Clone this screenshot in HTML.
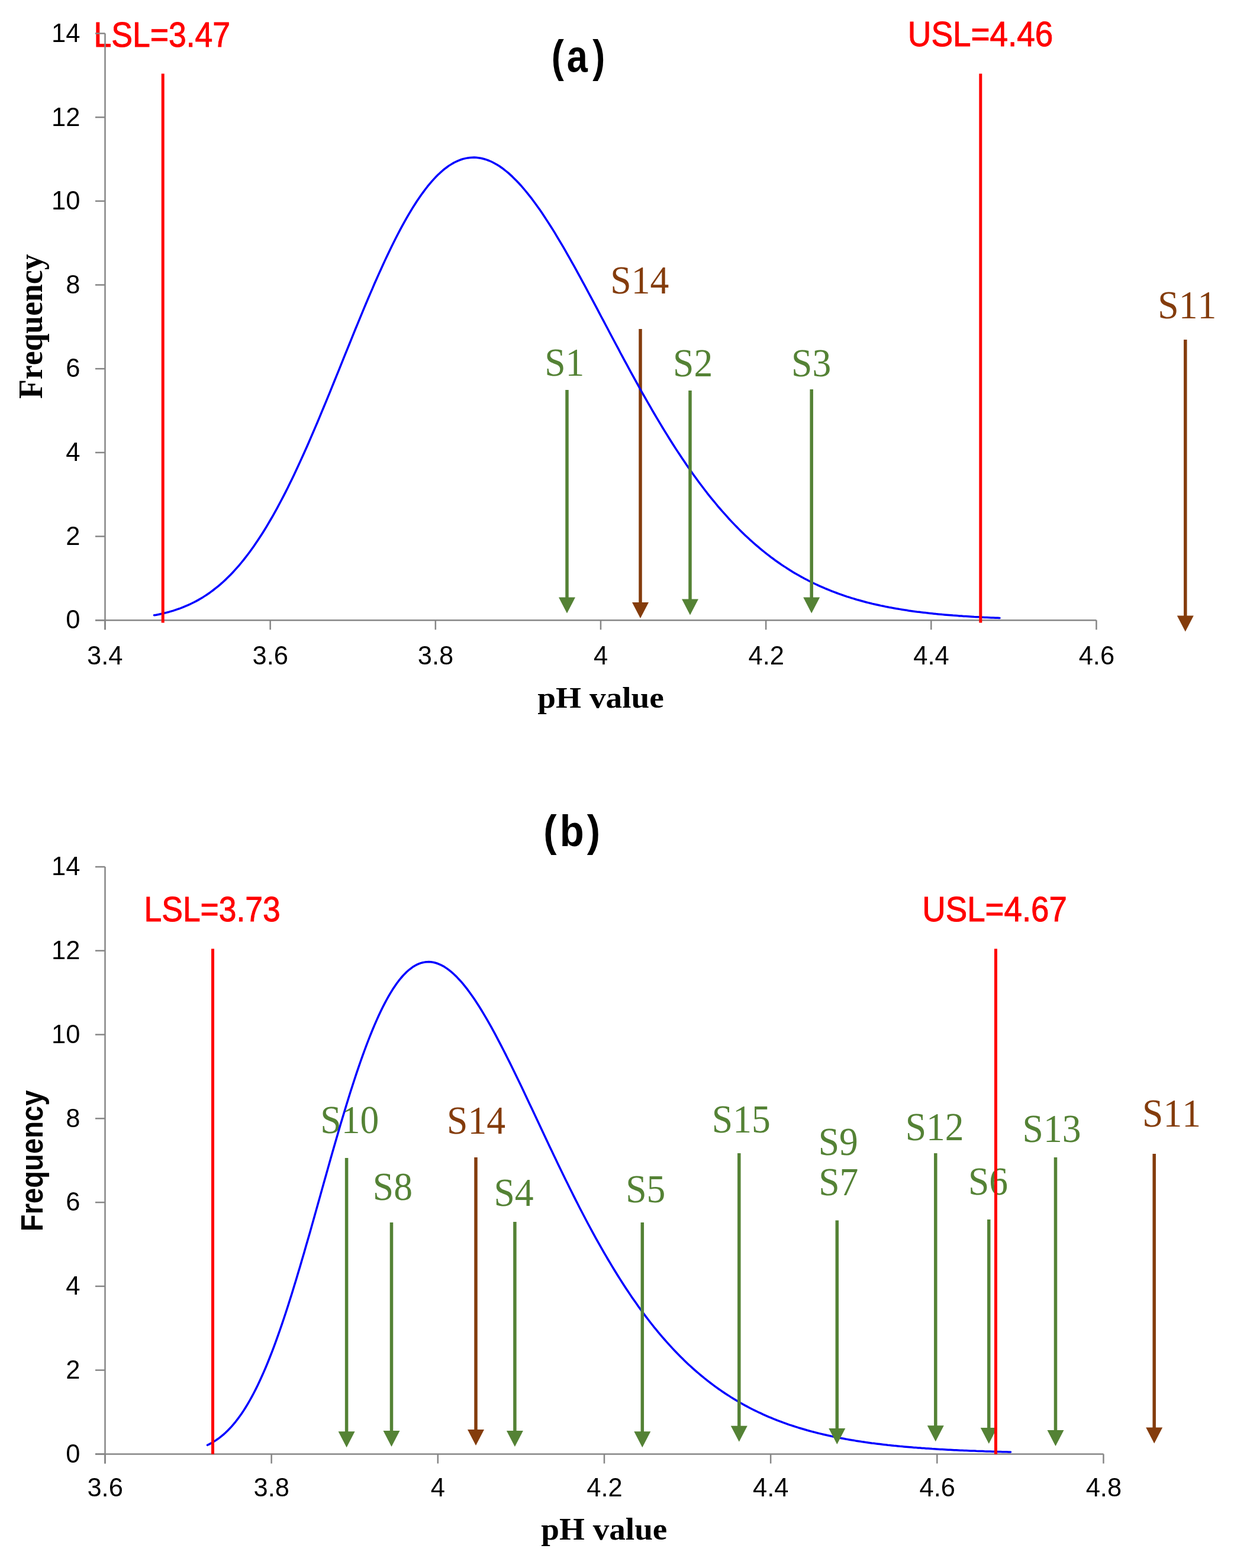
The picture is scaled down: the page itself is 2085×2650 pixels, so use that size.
<!DOCTYPE html>
<html><head><meta charset="utf-8"><title>pH value capability charts</title>
<style>
html,body{margin:0;padding:0;background:#fff;}
body{width:2085px;height:2650px;overflow:hidden;}
svg{display:block;}
#wrap{}
text{font-kerning:none;}
</style></head><body>
<div id="wrap"><svg width="2085" height="2650" viewBox="0 0 2085 2650">
<rect width="2085" height="2650" fill="#fff"/>
<g id="chart-a">
<text transform="translate(158.51,78.72) scale(0.9019,1)" font-family='"Liberation Sans", Arial, sans-serif' font-weight="normal" font-size="59.32" fill="#FF0000" stroke="#FF0000" stroke-width="1">LSL=3.47</text>
<text transform="translate(1533.77,78.12) scale(0.9187,1)" font-family='"Liberation Sans", Arial, sans-serif' font-weight="normal" font-size="59.75" fill="#FF0000" stroke="#FF0000" stroke-width="1">USL=4.46</text>
<text transform="translate(931.65,120.55) scale(0.8377,1)" font-family='"Liberation Sans", Arial, sans-serif' font-weight="bold" font-size="75.42" fill="#000"><tspan x="-0.02">(</tspan><tspan x="31.22">a</tspan><tspan x="83.05">)</tspan></text>
<text transform="translate(70.70,673.92) rotate(-90) scale(0.9575,1)" font-family='"Liberation Serif", "Times New Roman", serif' font-weight="bold" font-size="56.05" fill="#000">Frequency</text>
<text transform="translate(908.30,1196.31) scale(1.0718,1)" font-family='"Liberation Serif", "Times New Roman", serif' font-weight="bold" font-size="51.61" fill="#000">pH value</text>
<text transform="translate(920.17,634.60) scale(0.9500,1)" font-family='"Liberation Serif", "Times New Roman", serif' font-weight="normal" font-size="67.00" fill="#548235">S1</text>
<text transform="translate(1031.34,496.35) scale(0.9500,1)" font-family='"Liberation Serif", "Times New Roman", serif' font-weight="normal" font-size="67.00" fill="#843C0C">S14</text>
<text transform="translate(1137.02,635.85) scale(0.9500,1)" font-family='"Liberation Serif", "Times New Roman", serif' font-weight="normal" font-size="67.00" fill="#548235">S2</text>
<text transform="translate(1337.00,635.85) scale(0.9500,1)" font-family='"Liberation Serif", "Times New Roman", serif' font-weight="normal" font-size="67.00" fill="#548235">S3</text>
<text transform="translate(1956.26,537.95) scale(0.9500,1)" font-family='"Liberation Serif", "Times New Roman", serif' font-weight="normal" font-size="67.00" fill="#843C0C">S11</text>
<line x1="177.50" y1="56.50" x2="177.50" y2="1064.20" stroke="#868686" stroke-width="2.5"/>
<line x1="161.00" y1="1048.20" x2="177.50" y2="1048.20" stroke="#868686" stroke-width="2.5"/>
<text x="135.50" y="1062.47" text-anchor="end" font-family='"Liberation Sans", Arial, sans-serif' font-size="43.5" fill="#000">0</text>
<line x1="161.00" y1="906.53" x2="177.50" y2="906.53" stroke="#868686" stroke-width="2.5"/>
<text x="135.50" y="921.02" text-anchor="end" font-family='"Liberation Sans", Arial, sans-serif' font-size="43.5" fill="#000">2</text>
<line x1="161.00" y1="764.86" x2="177.50" y2="764.86" stroke="#868686" stroke-width="2.5"/>
<text x="135.50" y="779.12" text-anchor="end" font-family='"Liberation Sans", Arial, sans-serif' font-size="43.5" fill="#000">4</text>
<line x1="161.00" y1="623.19" x2="177.50" y2="623.19" stroke="#868686" stroke-width="2.5"/>
<text x="135.50" y="637.46" text-anchor="end" font-family='"Liberation Sans", Arial, sans-serif' font-size="43.5" fill="#000">6</text>
<line x1="161.00" y1="481.51" x2="177.50" y2="481.51" stroke="#868686" stroke-width="2.5"/>
<text x="135.50" y="495.79" text-anchor="end" font-family='"Liberation Sans", Arial, sans-serif' font-size="43.5" fill="#000">8</text>
<line x1="161.00" y1="339.84" x2="177.50" y2="339.84" stroke="#868686" stroke-width="2.5"/>
<text x="135.50" y="354.12" text-anchor="end" font-family='"Liberation Sans", Arial, sans-serif' font-size="43.5" fill="#000">10</text>
<line x1="161.00" y1="198.17" x2="177.50" y2="198.17" stroke="#868686" stroke-width="2.5"/>
<text x="135.50" y="212.66" text-anchor="end" font-family='"Liberation Sans", Arial, sans-serif' font-size="43.5" fill="#000">12</text>
<line x1="161.00" y1="56.50" x2="177.50" y2="56.50" stroke="#868686" stroke-width="2.5"/>
<text x="135.50" y="70.76" text-anchor="end" font-family='"Liberation Sans", Arial, sans-serif' font-size="43.5" fill="#000">14</text>
<line x1="161.00" y1="1048.20" x2="1852.50" y2="1048.20" stroke="#868686" stroke-width="2.5"/>
<line x1="177.50" y1="1048.20" x2="177.50" y2="1064.20" stroke="#868686" stroke-width="2.5"/>
<text x="147.07" y="1123.07" font-family='"Liberation Sans", Arial, sans-serif' font-size="43.5" fill="#000">3.4</text>
<line x1="456.66" y1="1048.20" x2="456.66" y2="1064.20" stroke="#868686" stroke-width="2.5"/>
<text x="426.55" y="1123.07" font-family='"Liberation Sans", Arial, sans-serif' font-size="43.5" fill="#000">3.6</text>
<line x1="735.82" y1="1048.20" x2="735.82" y2="1064.20" stroke="#868686" stroke-width="2.5"/>
<text x="705.70" y="1123.07" font-family='"Liberation Sans", Arial, sans-serif' font-size="43.5" fill="#000">3.8</text>
<line x1="1014.98" y1="1048.20" x2="1014.98" y2="1064.20" stroke="#868686" stroke-width="2.5"/>
<text x="1003.02" y="1123.06" font-family='"Liberation Sans", Arial, sans-serif' font-size="43.5" fill="#000">4</text>
<line x1="1294.14" y1="1048.20" x2="1294.14" y2="1064.20" stroke="#868686" stroke-width="2.5"/>
<text x="1264.50" y="1123.29" font-family='"Liberation Sans", Arial, sans-serif' font-size="43.5" fill="#000">4.2</text>
<line x1="1573.30" y1="1048.20" x2="1573.30" y2="1064.20" stroke="#868686" stroke-width="2.5"/>
<text x="1543.20" y="1123.06" font-family='"Liberation Sans", Arial, sans-serif' font-size="43.5" fill="#000">4.4</text>
<line x1="1852.46" y1="1048.20" x2="1852.46" y2="1064.20" stroke="#868686" stroke-width="2.5"/>
<text x="1822.68" y="1123.07" font-family='"Liberation Sans", Arial, sans-serif' font-size="43.5" fill="#000">4.6</text>
<line x1="1082.00" y1="556.00" x2="1082.00" y2="1019.00" stroke="#843C0C" stroke-width="5.5"/>
<polygon points="1068.00,1018.00 1096.00,1018.00 1082.00,1045.00" fill="#843C0C"/>
<line x1="2002.80" y1="574.00" x2="2002.80" y2="1041.50" stroke="#843C0C" stroke-width="5.5"/>
<polygon points="1988.80,1040.50 2016.80,1040.50 2002.80,1067.50" fill="#843C0C"/>
<path d="M260.5,1039.8 L264.1,1039.2 L267.7,1038.5 L271.2,1037.7 L274.8,1036.9 L278.4,1036.0 L282.0,1035.1 L285.6,1034.2 L289.1,1033.1 L292.7,1032.1 L296.3,1030.9 L299.9,1029.7 L303.5,1028.5 L307.0,1027.1 L310.6,1025.7 L314.2,1024.2 L317.8,1022.7 L321.4,1021.0 L324.9,1019.3 L328.5,1017.5 L332.1,1015.6 L335.7,1013.6 L339.3,1011.5 L342.8,1009.4 L346.4,1007.1 L350.0,1004.7 L353.6,1002.3 L357.2,999.7 L360.7,997.0 L364.3,994.2 L367.9,991.3 L371.5,988.3 L375.1,985.2 L378.6,981.9 L382.2,978.6 L385.8,975.1 L389.4,971.5 L393.0,967.7 L396.5,963.9 L400.1,959.9 L403.7,955.8 L407.3,951.5 L410.9,947.1 L414.4,942.6 L418.0,938.0 L421.6,933.2 L425.2,928.3 L428.8,923.2 L432.3,918.1 L435.9,912.7 L439.5,907.3 L443.1,901.7 L446.7,896.0 L450.3,890.1 L453.8,884.1 L457.4,878.0 L461.0,871.8 L464.6,865.4 L468.2,858.9 L471.7,852.2 L475.3,845.5 L478.9,838.6 L482.5,831.6 L486.1,824.5 L489.6,817.2 L493.2,809.9 L496.8,802.4 L500.4,794.8 L504.0,787.1 L507.5,779.4 L511.1,771.5 L514.7,763.5 L518.3,755.5 L521.9,747.3 L525.4,739.1 L529.0,730.8 L532.6,722.4 L536.2,714.0 L539.8,705.4 L543.3,696.9 L546.9,688.3 L550.5,679.6 L554.1,670.9 L557.7,662.1 L561.2,653.3 L564.8,644.5 L568.4,635.7 L572.0,626.8 L575.6,617.9 L579.1,609.1 L582.7,600.2 L586.3,591.3 L589.9,582.5 L593.5,573.6 L597.0,564.8 L600.6,556.0 L604.2,547.3 L607.8,538.6 L611.4,529.9 L614.9,521.3 L618.5,512.8 L622.1,504.3 L625.7,495.9 L629.3,487.6 L632.8,479.3 L636.4,471.2 L640.0,463.1 L643.6,455.2 L647.2,447.3 L650.7,439.6 L654.3,431.9 L657.9,424.4 L661.5,417.0 L665.1,409.8 L668.6,402.7 L672.2,395.7 L675.8,388.9 L679.4,382.2 L683.0,375.7 L686.5,369.3 L690.1,363.1 L693.7,357.1 L697.3,351.2 L700.9,345.5 L704.4,340.0 L708.0,334.7 L711.6,329.5 L715.2,324.6 L718.8,319.8 L722.3,315.2 L725.9,310.8 L729.5,306.6 L733.1,302.6 L736.7,298.8 L740.2,295.3 L743.8,291.9 L747.4,288.7 L751.0,285.7 L754.6,283.0 L758.1,280.4 L761.7,278.1 L765.3,275.9 L768.9,274.0 L772.5,272.3 L776.0,270.8 L779.6,269.5 L783.2,268.4 L786.8,267.6 L790.4,266.9 L793.9,266.4 L797.5,266.2 L801.1,266.1 L804.7,266.3 L808.3,266.7 L811.9,267.2 L815.4,268.0 L819.0,269.0 L822.6,270.1 L826.2,271.5 L829.8,273.0 L833.3,274.7 L836.9,276.7 L840.5,278.8 L844.1,281.0 L847.7,283.5 L851.2,286.1 L854.8,289.0 L858.4,291.9 L862.0,295.1 L865.6,298.4 L869.1,301.9 L872.7,305.5 L876.3,309.3 L879.9,313.2 L883.5,317.3 L887.0,321.5 L890.6,325.8 L894.2,330.3 L897.8,334.9 L901.4,339.7 L904.9,344.5 L908.5,349.5 L912.1,354.6 L915.7,359.8 L919.3,365.2 L922.8,370.6 L926.4,376.1 L930.0,381.7 L933.6,387.4 L937.2,393.2 L940.7,399.1 L944.3,405.1 L947.9,411.1 L951.5,417.2 L955.1,423.4 L958.6,429.6 L962.2,435.9 L965.8,442.3 L969.4,448.7 L973.0,455.2 L976.5,461.7 L980.1,468.2 L983.7,474.8 L987.3,481.4 L990.9,488.1 L994.4,494.7 L998.0,501.4 L1001.6,508.1 L1005.2,514.9 L1008.8,521.6 L1012.3,528.4 L1015.9,535.2 L1019.5,541.9 L1023.1,548.7 L1026.7,555.5 L1030.2,562.3 L1033.8,569.0 L1037.4,575.8 L1041.0,582.5 L1044.6,589.2 L1048.1,596.0 L1051.7,602.6 L1055.3,609.3 L1058.9,615.9 L1062.5,622.6 L1066.0,629.1 L1069.6,635.7 L1073.2,642.2 L1076.8,648.7 L1080.4,655.1 L1083.9,661.5 L1087.5,667.9 L1091.1,674.2 L1094.7,680.5 L1098.3,686.7 L1101.8,692.9 L1105.4,699.0 L1109.0,705.1 L1112.6,711.1 L1116.2,717.1 L1119.7,723.0 L1123.3,728.9 L1126.9,734.7 L1130.5,740.5 L1134.1,746.2 L1137.6,751.8 L1141.2,757.4 L1144.8,762.9 L1148.4,768.3 L1152.0,773.7 L1155.6,779.0 L1159.1,784.3 L1162.7,789.5 L1166.3,794.6 L1169.9,799.7 L1173.5,804.7 L1177.0,809.6 L1180.6,814.5 L1184.2,819.3 L1187.8,824.0 L1191.4,828.7 L1194.9,833.3 L1198.5,837.8 L1202.1,842.3 L1205.7,846.7 L1209.3,851.0 L1212.8,855.3 L1216.4,859.5 L1220.0,863.7 L1223.6,867.7 L1227.2,871.7 L1230.7,875.7 L1234.3,879.6 L1237.9,883.4 L1241.5,887.1 L1245.1,890.8 L1248.6,894.4 L1252.2,898.0 L1255.8,901.5 L1259.4,904.9 L1263.0,908.3 L1266.5,911.6 L1270.1,914.8 L1273.7,918.0 L1277.3,921.1 L1280.9,924.2 L1284.4,927.2 L1288.0,930.1 L1291.6,933.0 L1295.2,935.9 L1298.8,938.6 L1302.3,941.4 L1305.9,944.0 L1309.5,946.7 L1313.1,949.2 L1316.7,951.7 L1320.2,954.2 L1323.8,956.6 L1327.4,958.9 L1331.0,961.2 L1334.6,963.5 L1338.1,965.7 L1341.7,967.9 L1345.3,970.0 L1348.9,972.0 L1352.5,974.1 L1356.0,976.0 L1359.6,978.0 L1363.2,979.8 L1366.8,981.7 L1370.4,983.5 L1373.9,985.2 L1377.5,987.0 L1381.1,988.6 L1384.7,990.3 L1388.3,991.9 L1391.8,993.4 L1395.4,995.0 L1399.0,996.4 L1402.6,997.9 L1406.2,999.3 L1409.7,1000.7 L1413.3,1002.0 L1416.9,1003.4 L1420.5,1004.6 L1424.1,1005.9 L1427.6,1007.1 L1431.2,1008.3 L1434.8,1009.4 L1438.4,1010.6 L1442.0,1011.7 L1445.5,1012.7 L1449.1,1013.8 L1452.7,1014.8 L1456.3,1015.8 L1459.9,1016.8 L1463.4,1017.7 L1467.0,1018.6 L1470.6,1019.5 L1474.2,1020.4 L1477.8,1021.2 L1481.3,1022.0 L1484.9,1022.8 L1488.5,1023.6 L1492.1,1024.3 L1495.7,1025.1 L1499.2,1025.8 L1502.8,1026.5 L1506.4,1027.1 L1510.0,1027.8 L1513.6,1028.4 L1517.2,1029.0 L1520.7,1029.6 L1524.3,1030.2 L1527.9,1030.8 L1531.5,1031.3 L1535.1,1031.9 L1538.6,1032.4 L1542.2,1032.9 L1545.8,1033.4 L1549.4,1033.9 L1553.0,1034.3 L1556.5,1034.8 L1560.1,1035.2 L1563.7,1035.6 L1567.3,1036.0 L1570.9,1036.4 L1574.4,1036.8 L1578.0,1037.2 L1581.6,1037.6 L1585.2,1037.9 L1588.8,1038.2 L1592.3,1038.6 L1595.9,1038.9 L1599.5,1039.2 L1603.1,1039.5 L1606.7,1039.8 L1610.2,1040.1 L1613.8,1040.3 L1617.4,1040.6 L1621.0,1040.9 L1624.6,1041.1 L1628.1,1041.4 L1631.7,1041.6 L1635.3,1041.8 L1638.9,1042.0 L1642.5,1042.2 L1646.0,1042.5 L1649.6,1042.7 L1653.2,1042.8 L1656.8,1043.0 L1660.4,1043.2 L1663.9,1043.4 L1667.5,1043.5 L1671.1,1043.7 L1674.7,1043.9 L1678.3,1044.0 L1681.8,1044.2 L1685.4,1044.3 L1689.0,1044.4" fill="none" stroke="#0000FF" stroke-width="3.5" stroke-linejoin="round" stroke-linecap="round"/>
<line x1="958.00" y1="659.00" x2="958.00" y2="1010.60" stroke="#548235" stroke-width="5.5"/>
<polygon points="944.00,1009.60 972.00,1009.60 958.00,1036.60" fill="#548235"/>
<line x1="1166.00" y1="660.00" x2="1166.00" y2="1013.40" stroke="#548235" stroke-width="5.5"/>
<polygon points="1152.00,1012.40 1180.00,1012.40 1166.00,1039.40" fill="#548235"/>
<line x1="1371.20" y1="658.00" x2="1371.20" y2="1010.50" stroke="#548235" stroke-width="5.5"/>
<polygon points="1357.20,1009.50 1385.20,1009.50 1371.20,1036.50" fill="#548235"/>
<line x1="275.20" y1="124.50" x2="275.20" y2="1052.50" stroke="#FF0000" stroke-width="5"/>
<line x1="1656.80" y1="124.50" x2="1656.80" y2="1052.50" stroke="#FF0000" stroke-width="5"/>
</g>
<g id="chart-b">
<text transform="translate(243.62,1556.91) scale(0.8871,1)" font-family='"Liberation Sans", Arial, sans-serif' font-weight="normal" font-size="60.17" fill="#FF0000" stroke="#FF0000" stroke-width="1">LSL=3.73</text>
<text transform="translate(1558.18,1556.62) scale(0.9179,1)" font-family='"Liberation Sans", Arial, sans-serif' font-weight="normal" font-size="59.60" fill="#FF0000" stroke="#FF0000" stroke-width="1">USL=4.67</text>
<text transform="translate(918.66,1430.27) scale(0.9027,1)" font-family='"Liberation Sans", Arial, sans-serif' font-weight="bold" font-size="74.35" fill="#000"><tspan x="-0.36">(</tspan><tspan x="30.14">b</tspan><tspan x="80.88">)</tspan></text>
<text transform="translate(72.45,2081.16) rotate(-90) scale(0.9114,1)" font-family='"Liberation Sans", Arial, sans-serif' font-weight="bold" font-size="51.81" fill="#000">Frequency</text>
<text transform="translate(914.20,2602.07) scale(1.0562,1)" font-family='"Liberation Serif", "Times New Roman", serif' font-weight="bold" font-size="52.28" fill="#000">pH value</text>
<text transform="translate(541.26,1914.95) scale(0.9500,1)" font-family='"Liberation Serif", "Times New Roman", serif' font-weight="normal" font-size="67.00" fill="#548235">S10</text>
<text transform="translate(629.77,2028.20) scale(0.9500,1)" font-family='"Liberation Serif", "Times New Roman", serif' font-weight="normal" font-size="67.00" fill="#548235">S8</text>
<text transform="translate(755.09,1916.10) scale(0.9500,1)" font-family='"Liberation Serif", "Times New Roman", serif' font-weight="normal" font-size="67.00" fill="#843C0C">S14</text>
<text transform="translate(834.46,2037.80) scale(0.9500,1)" font-family='"Liberation Serif", "Times New Roman", serif' font-weight="normal" font-size="67.00" fill="#548235">S4</text>
<text transform="translate(1057.15,2031.95) scale(0.9500,1)" font-family='"Liberation Serif", "Times New Roman", serif' font-weight="normal" font-size="67.00" fill="#548235">S5</text>
<text transform="translate(1202.84,1913.85) scale(0.9500,1)" font-family='"Liberation Serif", "Times New Roman", serif' font-weight="normal" font-size="67.00" fill="#548235">S15</text>
<text transform="translate(1382.71,1952.30) scale(0.9500,1)" font-family='"Liberation Serif", "Times New Roman", serif' font-weight="normal" font-size="67.00" fill="#548235">S9</text>
<text transform="translate(1383.13,2019.90) scale(0.9500,1)" font-family='"Liberation Serif", "Times New Roman", serif' font-weight="normal" font-size="67.00" fill="#548235">S7</text>
<text transform="translate(1529.65,1926.50) scale(0.9500,1)" font-family='"Liberation Serif", "Times New Roman", serif' font-weight="normal" font-size="67.00" fill="#548235">S12</text>
<text transform="translate(1635.91,2019.40) scale(0.9500,1)" font-family='"Liberation Serif", "Times New Roman", serif' font-weight="normal" font-size="67.00" fill="#548235">S6</text>
<text transform="translate(1727.59,1929.85) scale(0.9500,1)" font-family='"Liberation Serif", "Times New Roman", serif' font-weight="normal" font-size="67.00" fill="#548235">S13</text>
<text transform="translate(1930.01,1904.35) scale(0.9500,1)" font-family='"Liberation Serif", "Times New Roman", serif' font-weight="normal" font-size="67.00" fill="#843C0C">S11</text>
<line x1="177.50" y1="1465.00" x2="177.50" y2="2473.40" stroke="#868686" stroke-width="2.5"/>
<line x1="161.00" y1="2457.40" x2="177.50" y2="2457.40" stroke="#868686" stroke-width="2.5"/>
<text x="135.50" y="2471.67" text-anchor="end" font-family='"Liberation Sans", Arial, sans-serif' font-size="43.5" fill="#000">0</text>
<line x1="161.00" y1="2315.63" x2="177.50" y2="2315.63" stroke="#868686" stroke-width="2.5"/>
<text x="135.50" y="2330.12" text-anchor="end" font-family='"Liberation Sans", Arial, sans-serif' font-size="43.5" fill="#000">2</text>
<line x1="161.00" y1="2173.86" x2="177.50" y2="2173.86" stroke="#868686" stroke-width="2.5"/>
<text x="135.50" y="2188.12" text-anchor="end" font-family='"Liberation Sans", Arial, sans-serif' font-size="43.5" fill="#000">4</text>
<line x1="161.00" y1="2032.09" x2="177.50" y2="2032.09" stroke="#868686" stroke-width="2.5"/>
<text x="135.50" y="2046.36" text-anchor="end" font-family='"Liberation Sans", Arial, sans-serif' font-size="43.5" fill="#000">6</text>
<line x1="161.00" y1="1890.31" x2="177.50" y2="1890.31" stroke="#868686" stroke-width="2.5"/>
<text x="135.50" y="1904.59" text-anchor="end" font-family='"Liberation Sans", Arial, sans-serif' font-size="43.5" fill="#000">8</text>
<line x1="161.00" y1="1748.54" x2="177.50" y2="1748.54" stroke="#868686" stroke-width="2.5"/>
<text x="135.50" y="1762.82" text-anchor="end" font-family='"Liberation Sans", Arial, sans-serif' font-size="43.5" fill="#000">10</text>
<line x1="161.00" y1="1606.77" x2="177.50" y2="1606.77" stroke="#868686" stroke-width="2.5"/>
<text x="135.50" y="1621.26" text-anchor="end" font-family='"Liberation Sans", Arial, sans-serif' font-size="43.5" fill="#000">12</text>
<line x1="161.00" y1="1465.00" x2="177.50" y2="1465.00" stroke="#868686" stroke-width="2.5"/>
<text x="135.50" y="1479.26" text-anchor="end" font-family='"Liberation Sans", Arial, sans-serif' font-size="43.5" fill="#000">14</text>
<line x1="161.00" y1="2457.40" x2="1864.50" y2="2457.40" stroke="#868686" stroke-width="2.5"/>
<line x1="177.50" y1="2457.40" x2="177.50" y2="2473.40" stroke="#868686" stroke-width="2.5"/>
<text x="147.39" y="2529.27" font-family='"Liberation Sans", Arial, sans-serif' font-size="43.5" fill="#000">3.6</text>
<line x1="458.66" y1="2457.40" x2="458.66" y2="2473.40" stroke="#868686" stroke-width="2.5"/>
<text x="428.54" y="2529.27" font-family='"Liberation Sans", Arial, sans-serif' font-size="43.5" fill="#000">3.8</text>
<line x1="739.82" y1="2457.40" x2="739.82" y2="2473.40" stroke="#868686" stroke-width="2.5"/>
<text x="727.86" y="2529.26" font-family='"Liberation Sans", Arial, sans-serif' font-size="43.5" fill="#000">4</text>
<line x1="1020.98" y1="2457.40" x2="1020.98" y2="2473.40" stroke="#868686" stroke-width="2.5"/>
<text x="991.34" y="2529.49" font-family='"Liberation Sans", Arial, sans-serif' font-size="43.5" fill="#000">4.2</text>
<line x1="1302.14" y1="2457.40" x2="1302.14" y2="2473.40" stroke="#868686" stroke-width="2.5"/>
<text x="1272.04" y="2529.26" font-family='"Liberation Sans", Arial, sans-serif' font-size="43.5" fill="#000">4.4</text>
<line x1="1583.30" y1="2457.40" x2="1583.30" y2="2473.40" stroke="#868686" stroke-width="2.5"/>
<text x="1553.52" y="2529.27" font-family='"Liberation Sans", Arial, sans-serif' font-size="43.5" fill="#000">4.6</text>
<line x1="1864.46" y1="2457.40" x2="1864.46" y2="2473.40" stroke="#868686" stroke-width="2.5"/>
<text x="1834.67" y="2529.27" font-family='"Liberation Sans", Arial, sans-serif' font-size="43.5" fill="#000">4.8</text>
<line x1="804.00" y1="1956.00" x2="804.00" y2="2417.00" stroke="#843C0C" stroke-width="5.5"/>
<polygon points="790.00,2416.00 818.00,2416.00 804.00,2443.00" fill="#843C0C"/>
<line x1="1950.20" y1="1950.00" x2="1950.20" y2="2413.50" stroke="#843C0C" stroke-width="5.5"/>
<polygon points="1936.20,2412.50 1964.20,2412.50 1950.20,2439.50" fill="#843C0C"/>
<path d="M350.5,2442.3 L353.9,2440.6 L357.3,2438.7 L360.7,2436.8 L364.1,2434.6 L367.5,2432.3 L370.9,2429.8 L374.3,2427.2 L377.7,2424.3 L381.1,2421.3 L384.5,2418.0 L387.9,2414.5 L391.3,2410.9 L394.7,2406.9 L398.1,2402.8 L401.5,2398.4 L404.9,2393.8 L408.3,2389.0 L411.7,2383.9 L415.1,2378.5 L418.5,2372.9 L421.9,2367.0 L425.3,2360.9 L428.7,2354.5 L432.1,2347.9 L435.5,2341.0 L438.9,2333.8 L442.3,2326.3 L445.7,2318.6 L449.1,2310.7 L452.5,2302.5 L455.9,2294.0 L459.3,2285.3 L462.7,2276.3 L466.1,2267.1 L469.5,2257.7 L472.9,2248.0 L476.3,2238.1 L479.7,2228.0 L483.1,2217.7 L486.5,2207.2 L489.9,2196.5 L493.3,2185.7 L496.7,2174.6 L500.1,2163.5 L503.5,2152.1 L506.9,2140.7 L510.3,2129.1 L513.7,2117.4 L517.1,2105.5 L520.6,2093.6 L524.0,2081.7 L527.4,2069.6 L530.8,2057.6 L534.2,2045.4 L537.6,2033.3 L541.0,2021.1 L544.4,2008.9 L547.8,1996.8 L551.2,1984.7 L554.6,1972.6 L558.0,1960.6 L561.4,1948.6 L564.8,1936.7 L568.2,1924.9 L571.6,1913.2 L575.0,1901.6 L578.4,1890.2 L581.8,1878.9 L585.2,1867.7 L588.6,1856.7 L592.0,1845.8 L595.4,1835.2 L598.8,1824.7 L602.2,1814.4 L605.6,1804.4 L609.0,1794.5 L612.4,1784.9 L615.8,1775.5 L619.2,1766.4 L622.6,1757.5 L626.0,1748.9 L629.4,1740.5 L632.8,1732.4 L636.2,1724.6 L639.6,1717.0 L643.0,1709.8 L646.4,1702.8 L649.8,1696.1 L653.2,1689.7 L656.6,1683.6 L660.0,1677.8 L663.4,1672.3 L666.8,1667.2 L670.2,1662.3 L673.6,1657.7 L677.0,1653.5 L680.4,1649.5 L683.8,1645.9 L687.2,1642.5 L690.6,1639.5 L694.0,1636.8 L697.4,1634.3 L700.8,1632.2 L704.2,1630.4 L707.6,1628.9 L711.0,1627.6 L714.4,1626.7 L717.8,1626.1 L721.2,1625.7 L724.6,1625.6 L728.0,1625.8 L731.4,1626.3 L734.8,1627.0 L738.2,1628.0 L741.6,1629.3 L745.0,1630.8 L748.4,1632.6 L751.8,1634.6 L755.2,1636.9 L758.6,1639.4 L762.0,1642.1 L765.4,1645.0 L768.8,1648.2 L772.2,1651.6 L775.6,1655.2 L779.0,1658.9 L782.4,1662.9 L785.8,1667.1 L789.2,1671.4 L792.6,1676.0 L796.0,1680.7 L799.4,1685.5 L802.8,1690.5 L806.2,1695.7 L809.6,1701.0 L813.0,1706.5 L816.4,1712.1 L819.8,1717.8 L823.2,1723.7 L826.6,1729.6 L830.0,1735.7 L833.4,1741.9 L836.8,1748.2 L840.2,1754.6 L843.6,1761.1 L847.0,1767.6 L850.4,1774.2 L853.8,1780.9 L857.2,1787.7 L860.7,1794.6 L864.1,1801.5 L867.5,1808.4 L870.9,1815.4 L874.3,1822.4 L877.7,1829.5 L881.1,1836.6 L884.5,1843.8 L887.9,1851.0 L891.3,1858.2 L894.7,1865.4 L898.1,1872.6 L901.5,1879.8 L904.9,1887.1 L908.3,1894.3 L911.7,1901.6 L915.1,1908.8 L918.5,1916.0 L921.9,1923.3 L925.3,1930.5 L928.7,1937.7 L932.1,1944.8 L935.5,1952.0 L938.9,1959.1 L942.3,1966.2 L945.7,1973.3 L949.1,1980.3 L952.5,1987.3 L955.9,1994.2 L959.3,2001.1 L962.7,2008.0 L966.1,2014.8 L969.5,2021.6 L972.9,2028.4 L976.3,2035.0 L979.7,2041.7 L983.1,2048.3 L986.5,2054.8 L989.9,2061.3 L993.3,2067.7 L996.7,2074.0 L1000.1,2080.3 L1003.5,2086.6 L1006.9,2092.8 L1010.3,2098.9 L1013.7,2104.9 L1017.1,2110.9 L1020.5,2116.9 L1023.9,2122.7 L1027.3,2128.5 L1030.7,2134.2 L1034.1,2139.9 L1037.5,2145.5 L1040.9,2151.0 L1044.3,2156.5 L1047.7,2161.9 L1051.1,2167.2 L1054.5,2172.5 L1057.9,2177.7 L1061.3,2182.8 L1064.7,2187.9 L1068.1,2192.9 L1071.5,2197.8 L1074.9,2202.6 L1078.3,2207.4 L1081.7,2212.1 L1085.1,2216.8 L1088.5,2221.4 L1091.9,2225.9 L1095.3,2230.3 L1098.7,2234.7 L1102.1,2239.0 L1105.5,2243.3 L1108.9,2247.4 L1112.3,2251.6 L1115.7,2255.6 L1119.1,2259.6 L1122.5,2263.5 L1125.9,2267.4 L1129.3,2271.2 L1132.7,2274.9 L1136.1,2278.6 L1139.5,2282.2 L1142.9,2285.8 L1146.3,2289.3 L1149.7,2292.7 L1153.1,2296.1 L1156.5,2299.4 L1159.9,2302.7 L1163.3,2305.9 L1166.7,2309.0 L1170.1,2312.1 L1173.5,2315.1 L1176.9,2318.1 L1180.3,2321.0 L1183.7,2323.9 L1187.1,2326.7 L1190.5,2329.5 L1193.9,2332.2 L1197.3,2334.9 L1200.8,2337.5 L1204.2,2340.1 L1207.6,2342.6 L1211.0,2345.1 L1214.4,2347.5 L1217.8,2349.9 L1221.2,2352.2 L1224.6,2354.5 L1228.0,2356.7 L1231.4,2358.9 L1234.8,2361.1 L1238.2,2363.2 L1241.6,2365.3 L1245.0,2367.3 L1248.4,2369.3 L1251.8,2371.3 L1255.2,2373.2 L1258.6,2375.1 L1262.0,2376.9 L1265.4,2378.7 L1268.8,2380.5 L1272.2,2382.2 L1275.6,2383.9 L1279.0,2385.5 L1282.4,2387.2 L1285.8,2388.7 L1289.2,2390.3 L1292.6,2391.8 L1296.0,2393.3 L1299.4,2394.8 L1302.8,2396.2 L1306.2,2397.6 L1309.6,2399.0 L1313.0,2400.3 L1316.4,2401.6 L1319.8,2402.9 L1323.2,2404.2 L1326.6,2405.4 L1330.0,2406.6 L1333.4,2407.8 L1336.8,2408.9 L1340.2,2410.0 L1343.6,2411.1 L1347.0,2412.2 L1350.4,2413.3 L1353.8,2414.3 L1357.2,2415.3 L1360.6,2416.3 L1364.0,2417.3 L1367.4,2418.2 L1370.8,2419.1 L1374.2,2420.0 L1377.6,2420.9 L1381.0,2421.8 L1384.4,2422.6 L1387.8,2423.4 L1391.2,2424.2 L1394.6,2425.0 L1398.0,2425.8 L1401.4,2426.5 L1404.8,2427.3 L1408.2,2428.0 L1411.6,2428.7 L1415.0,2429.4 L1418.4,2430.1 L1421.8,2430.7 L1425.2,2431.3 L1428.6,2432.0 L1432.0,2432.6 L1435.4,2433.2 L1438.8,2433.8 L1442.2,2434.3 L1445.6,2434.9 L1449.0,2435.4 L1452.4,2435.9 L1455.8,2436.5 L1459.2,2437.0 L1462.6,2437.5 L1466.0,2437.9 L1469.4,2438.4 L1472.8,2438.9 L1476.2,2439.3 L1479.6,2439.8 L1483.0,2440.2 L1486.4,2440.6 L1489.8,2441.0 L1493.2,2441.4 L1496.6,2441.8 L1500.0,2442.2 L1503.4,2442.5 L1506.8,2442.9 L1510.2,2443.3 L1513.6,2443.6 L1517.0,2443.9 L1520.4,2444.3 L1523.8,2444.6 L1527.2,2444.9 L1530.6,2445.2 L1534.0,2445.5 L1537.4,2445.8 L1540.9,2446.1 L1544.3,2446.4 L1547.7,2446.6 L1551.1,2446.9 L1554.5,2447.1 L1557.9,2447.4 L1561.3,2447.6 L1564.7,2447.9 L1568.1,2448.1 L1571.5,2448.3 L1574.9,2448.6 L1578.3,2448.8 L1581.7,2449.0 L1585.1,2449.2 L1588.5,2449.4 L1591.9,2449.6 L1595.3,2449.8 L1598.7,2450.0 L1602.1,2450.2 L1605.5,2450.3 L1608.9,2450.5 L1612.3,2450.7 L1615.7,2450.8 L1619.1,2451.0 L1622.5,2451.2 L1625.9,2451.3 L1629.3,2451.5 L1632.7,2451.6 L1636.1,2451.7 L1639.5,2451.9 L1642.9,2452.0 L1646.3,2452.1 L1649.7,2452.3 L1653.1,2452.4 L1656.5,2452.5 L1659.9,2452.6 L1663.3,2452.8 L1666.7,2452.9 L1670.1,2453.0 L1673.5,2453.1 L1676.9,2453.2 L1680.3,2453.3 L1683.7,2453.4 L1687.1,2453.5 L1690.5,2453.6 L1693.9,2453.7 L1697.3,2453.8 L1700.7,2453.8 L1704.1,2453.9 L1707.5,2454.0" fill="none" stroke="#0000FF" stroke-width="3.5" stroke-linejoin="round" stroke-linecap="round"/>
<line x1="585.60" y1="1957.00" x2="585.60" y2="2420.30" stroke="#548235" stroke-width="5.5"/>
<polygon points="571.60,2419.30 599.60,2419.30 585.60,2446.30" fill="#548235"/>
<line x1="661.50" y1="2066.00" x2="661.50" y2="2419.00" stroke="#548235" stroke-width="5.5"/>
<polygon points="647.50,2418.00 675.50,2418.00 661.50,2445.00" fill="#548235"/>
<line x1="869.90" y1="2065.00" x2="869.90" y2="2419.00" stroke="#548235" stroke-width="5.5"/>
<polygon points="855.90,2418.00 883.90,2418.00 869.90,2445.00" fill="#548235"/>
<line x1="1085.30" y1="2066.00" x2="1085.30" y2="2420.20" stroke="#548235" stroke-width="5.5"/>
<polygon points="1071.30,2419.20 1099.30,2419.20 1085.30,2446.20" fill="#548235"/>
<line x1="1248.80" y1="1949.00" x2="1248.80" y2="2410.70" stroke="#548235" stroke-width="5.5"/>
<polygon points="1234.80,2409.70 1262.80,2409.70 1248.80,2436.70" fill="#548235"/>
<line x1="1414.30" y1="2062.50" x2="1414.30" y2="2415.00" stroke="#548235" stroke-width="5.5"/>
<polygon points="1400.30,2414.00 1428.30,2414.00 1414.30,2441.00" fill="#548235"/>
<line x1="1580.80" y1="1949.00" x2="1580.80" y2="2410.20" stroke="#548235" stroke-width="5.5"/>
<polygon points="1566.80,2409.20 1594.80,2409.20 1580.80,2436.20" fill="#548235"/>
<line x1="1670.80" y1="2061.00" x2="1670.80" y2="2414.00" stroke="#548235" stroke-width="5.5"/>
<polygon points="1656.80,2413.00 1684.80,2413.00 1670.80,2440.00" fill="#548235"/>
<line x1="1783.50" y1="1956.00" x2="1783.50" y2="2418.00" stroke="#548235" stroke-width="5.5"/>
<polygon points="1769.50,2417.00 1797.50,2417.00 1783.50,2444.00" fill="#548235"/>
<line x1="359.50" y1="1603.50" x2="359.50" y2="2457.50" stroke="#FF0000" stroke-width="5"/>
<line x1="1682.50" y1="1603.50" x2="1682.50" y2="2457.70" stroke="#FF0000" stroke-width="5"/>
</g>
</svg></div>
</body></html>
